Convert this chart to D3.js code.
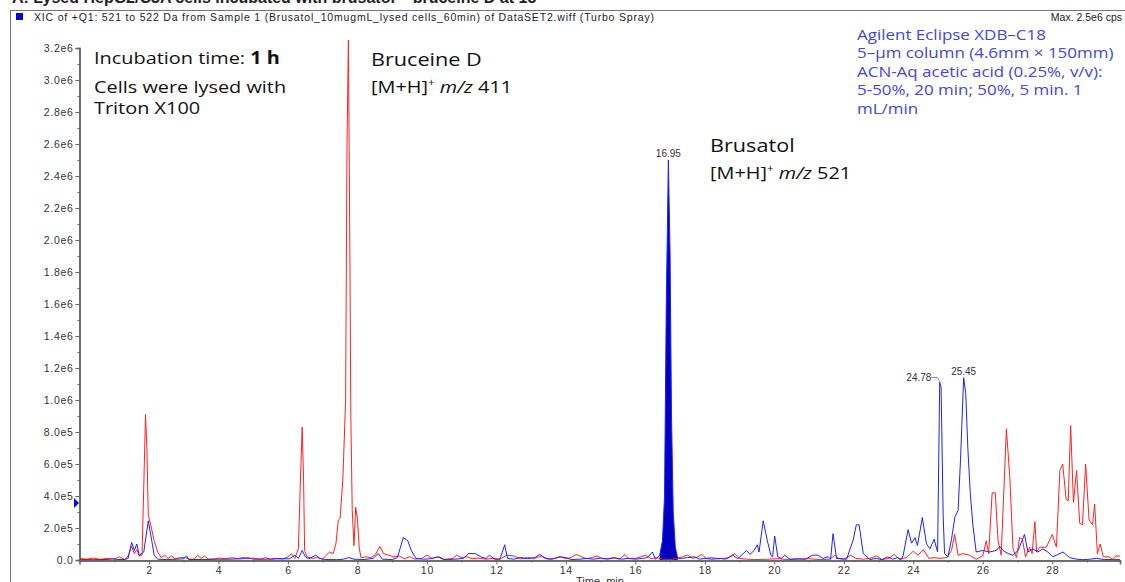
<!DOCTYPE html>
<html>
<head>
<meta charset="utf-8">
<script src="https://cdn.jsdelivr.net/npm/d3@7"></script>
<style>
  body { margin: 0; background: #fff; }
  svg { display: block; }
  .tick text { font-family: "Liberation Sans", Arial, sans-serif; font-size: 10.5px; fill: #333; letter-spacing: 0.7px; }
  .note { font-family: "Open Sans", "Noto Sans", sans-serif; fill: #111; }
  .cond { font-family: "Open Sans", "Noto Sans", sans-serif; fill: #4545d8; font-size: 14.5px; }
</style>
</head>
<body>
<svg id="svg" width="1125" height="582"></svg>
<script>
// chromatogram traces: [time (min), intensity (cps)]
var bruceineD = [ // red, m/z 411
  [0.0,1e4],[0.2,0.5e4],[0.4,1.2e4],[0.6,0.4e4],[0.8,1e4],[1.0,0.5e4],[1.15,2e4],[1.3,0.3e4],[1.4,2.5e4],[1.5,8.5e4],
  [1.58,4e4],[1.65,6.5e4],[1.72,2.5e4],[1.8,3e4],[1.86,5.5e5],[1.9,9.1e5],[1.94,7e5],[1.98,2.8e5],[2.05,2.2e5],[2.15,1.2e5],
  [2.25,5e4],[2.35,1.5e4],[2.45,3e4],[2.55,1e4],[2.65,2.5e4],[2.75,0.8e4],[2.9,1.5e4],[3.05,1.5e4],[3.15,0.5e4],[3.3,0.5e4],
  [3.4,3e4],[3.5,1e4],[3.6,2.5e4],[3.7,0.5e4],[3.85,0.5e4],[4.0,1.2e4],[4.2,0.8e4],[4.4,1.5e4],[4.55,0.8e4],[4.7,1.6e4],
  [4.85,0.8e4],[5.0,1.2e4],[5.2,0.5e4],[5.35,1.5e4],[5.5,0.5e4],[5.7,1e4],[5.85,0.5e4],[6.0,2e4],[6.1,4e4],[6.2,1e4],
  [6.3,7e4],[6.36,5e5],[6.41,8.3e5],[6.45,5e5],[6.48,6e4],[6.55,2e4],[6.7,1e4],[6.85,1.5e4],[7.0,0.5e4],[7.1,3e4],
  [7.2,5e4],[7.3,4e4],[7.38,1e5],[7.45,2.5e5],[7.5,2.6e5],[7.58,5e5],[7.66,1.0e6],[7.7,2.6e6],[7.74,3.25e6],[7.78,2.0e6],
  [7.81,9e5],[7.85,3.1e5],[7.9,9e4],[7.95,3.3e5],[8.0,2.6e5],[8.05,8e4],[8.1,1.5e4],[8.25,2e4],[8.4,1.5e4],[8.52,3.5e4],
  [8.65,8.5e4],[8.75,4e4],[8.9,3e4],[9.05,2e4],[9.2,2.5e4],[9.35,0.8e4],[9.5,2e4],[9.65,0.5e4],[9.85,1e4],[10.0,3e4],
  [10.15,1e4],[10.3,2e4],[10.45,0.5e4],[10.6,0.5e4],[10.75,1e4],[10.85,3e4],[11.0,1.5e4],[11.15,2e4],[11.3,0.8e4],[11.5,1.2e4],
  [11.7,0.5e4],[11.9,1e4],[12.1,0.5e4],[12.3,3e4],[12.5,2.5e4],[12.7,0.8e4],[12.9,1.5e4],[13.1,1e4],[13.3,2.5e4],[13.5,0.5e4],
  [13.7,1e4],[13.85,2e4],[14.0,0.8e4],[14.15,1.5e4],[14.3,3.5e4],[14.45,2e4],[14.6,0.8e4],[14.75,1.5e4],[14.9,2.5e4],[15.05,0.8e4],
  [15.2,1e4],[15.4,1.2e4],[15.55,0.5e4],[15.7,3.5e4],[15.8,1e4],[16.0,1e4],[16.15,2e4],[16.3,3e4],[16.45,0.8e4],[16.6,1.5e4],
  [16.8,0.5e4],[17.0,0.3e4],[17.2,1e4],[17.35,2e4],[17.5,3e4],[17.65,1e4],[17.8,2e4],[17.9,3.5e4],[18.05,1e4],[18.2,1.5e4],
  [18.4,0.8e4],[18.55,1e4],[18.7,1.5e4],[18.86,4e4],[19.0,1e4],[19.2,0.5e4],[19.5,0.3e4],[19.8,0.5e4],[20.1,0.8e4],[20.4,0.3e4],
  [20.7,0.5e4],[21.0,0.8e4],[21.3,0.3e4],[21.6,0.5e4],[21.74,3e4],[21.85,1e4],[22.0,0.5e4],[22.2,3e4],[22.35,1e4],[22.56,0.5e4],
  [22.75,1e4],[22.94,2.5e4],[23.1,0.3e4],[23.3,1e4],[23.45,3.5e4],[23.6,0.5e4],[23.8,1.5e4],[24.0,5.5e4],[24.14,3e4],[24.29,6.5e4],
  [24.45,1e4],[24.6,1.5e4],[24.75,1e4],[24.97,1.5e4],[25.1,6e4],[25.19,1.6e5],[25.29,3e4],[25.43,4e4],[25.62,3e4],[25.81,0.5e4],
  [26.0,2.5e4],[26.1,1.2e5],[26.17,4e4],[26.27,4.2e5],[26.36,4.2e5],[26.44,1.2e5],[26.53,3e4],[26.68,8.2e5],[26.78,5.1e5],[26.87,7e4],
  [26.97,1.5e4],[27.06,1.4e5],[27.14,1.3e5],[27.23,2e4],[27.35,8e4],[27.42,4e4],[27.5,2.4e5],[27.55,5e4],[27.64,8e4],[27.83,8e4],
  [28.0,1.6e5],[28.12,8e4],[28.22,5.6e5],[28.3,6e5],[28.4,3.8e5],[28.46,3.7e5],[28.53,8.4e5],[28.61,3.6e5],[28.7,5.6e5],[28.79,2.3e5],
  [28.87,2.2e5],[28.96,6e5],[29.06,2.5e5],[29.16,2.2e5],[29.22,3.5e5],[29.3,4e4],[29.38,1e5],[29.47,2e4],[29.63,2e4],[29.73,0.5e4],
  [29.83,2.5e4],[29.95,2.5e4]
];
var brusatol = [ // blue, m/z 521
  [0.0,0.2e4],[0.4,0.2e4],[0.8,0.3e4],[0.95,0.8e4],[1.1,0.3e4],[1.3,0.3e4],[1.4,1e4],[1.5,1.1e5],[1.58,6e4],[1.65,1e5],
  [1.72,3e4],[1.85,5e4],[1.98,2.45e5],[2.08,1.2e5],[2.15,3e4],[2.25,0.5e4],[2.5,0.3e4],[2.8,0.5e4],[3.0,0.8e4],[3.08,2.5e4],
  [3.15,0.3e4],[3.5,0.3e4],[3.9,0.5e4],[4.3,0.5e4],[4.7,0.8e4],[4.85,1.5e4],[5.0,0.5e4],[5.4,0.5e4],[5.8,0.8e4],[6.05,0.8e4],
  [6.2,3e4],[6.3,1e4],[6.41,6e4],[6.5,2e4],[6.6,0.8e4],[6.8,3e4],[6.92,1e4],[7.05,0.3e4],[7.4,0.2e4],[7.6,0.5e4],
  [7.75,1.5e4],[7.9,0.5e4],[8.2,0.3e4],[8.45,1e4],[8.6,4e4],[8.72,0.5e4],[9.0,0.3e4],[9.15,1.5e4],[9.32,1.4e5],[9.45,1.2e5],
  [9.55,6e4],[9.68,1e4],[9.9,0.5e4],[10.1,0.8e4],[10.35,2e4],[10.5,0.3e4],[10.8,0.5e4],[11.05,1e4],[11.2,4e4],[11.4,4e4],
  [11.55,2e4],[11.7,1e4],[11.8,3e4],[11.95,0.5e4],[12.1,0.5e4],[12.24,9.5e4],[12.32,1e4],[12.5,0.5e4],[12.7,1.5e4],[12.9,0.8e4],
  [13.1,1.5e4],[13.25,3.5e4],[13.4,1e4],[13.6,0.5e4],[13.8,2e4],[14.0,1.5e4],[14.15,0.3e4],[14.4,0.5e4],[14.6,1e4],[14.8,0.5e4],
  [15.0,1.2e4],[15.2,0.5e4],[15.4,1.5e4],[15.6,0.5e4],[15.8,1e4],[16.0,0.5e4],[16.2,1e4],[16.35,1.5e4],[16.49,5e4],[16.58,0.5e4],
  [16.7,3e4],[16.78,1.2e5],[16.84,4e5],[16.89,1.6e6],[16.95,2.5e6],[17.0,1.9e6],[17.04,9e5],[17.09,3e5],[17.15,8e4],[17.22,1e4],
  [17.35,1e4],[17.5,1.5e4],[17.7,2e4],[17.85,0.5e4],[18.0,1e4],[18.2,0.5e4],[18.45,1e4],[18.6,0.5e4],[18.8,3e4],[18.95,0.8e4],
  [19.2,6e4],[19.3,3.5e4],[19.42,6e4],[19.51,9.5e4],[19.56,5e4],[19.68,2.45e5],[19.8,1.2e5],[19.9,3e4],[19.95,2e4],[20.01,1.5e5],
  [20.1,2e4],[20.2,1e4],[20.3,3e4],[20.45,0.5e4],[20.7,0.8e4],[20.9,0.5e4],[21.1,3e4],[21.25,3e4],[21.4,1e4],[21.55,2e4],
  [21.62,0.5e4],[21.69,1.65e5],[21.79,1e4],[22.08,0.5e4],[22.27,1.25e5],[22.36,2.2e5],[22.44,2.2e5],[22.56,4e4],[22.75,0.3e4],[22.94,1e4],
  [23.1,0.2e4],[23.26,2e4],[23.4,0.5e4],[23.55,1.5e4],[23.65,0.2e4],[23.71,3e4],[23.85,1.9e5],[23.95,1.05e5],[24.05,1.4e5],[24.12,9e4],
  [24.26,2.65e5],[24.38,1e5],[24.48,7e4],[24.6,1.3e5],[24.7,5e4],[24.76,1.11e6],[24.8,1.08e6],[24.86,2.8e5],[24.9,4e4],[25.0,2e4],
  [25.1,1.3e5],[25.2,2.7e5],[25.29,3.1e5],[25.36,6.3e5],[25.45,1.14e6],[25.51,1.04e6],[25.57,7e5],[25.64,4.2e5],[25.71,2.3e5],[25.81,5e4],
  [26.0,6e4],[26.2,5e4],[26.39,6e4],[26.49,8.5e4],[26.58,6e4],[26.73,4e4],[26.87,3e4],[27.02,6e4],[27.2,1.6e5],[27.3,5e4],
  [27.44,7e4],[27.58,5e4],[27.73,7e4],[27.87,5e4],[28.02,2e4],[28.31,5e4],[28.5,1.5e4],[28.7,0.5e4],[28.88,0.2e4],[29.1,0.5e4],
  [29.27,1e4],[29.5,0.3e4],[29.95,0.2e4]
];
var filledRange = [16.6, 17.25];            // integrated brusatol peak
var peakLabels = [[16.95, 2.5e6, "16.95"], [24.78, 1.11e6, "24.78"], [25.45, 1.14e6, "25.45"]];
var xMajor = [2,4,6,8,10,12,14,16,18,20,22,24,26,28];
var xMinor = [1,3,5,7,9,11,13,15,17,19,21,23,25,27,29];
var yMajor = d3.range(0, 3.2e6 + 1, 2e5);
var yMinor = d3.range(1e5, 3.2e6, 2e5);
var condLines = ["Agilent Eclipse XDB\u2013C18", "5\u2013\u00b5m column (4.6mm \u00d7 150mm)",
                 "ACN-Aq acetic acid (0.25%, v/v):", "5-50%, 20 min; 50%, 5 min. 1", "mL/min"];

var svg = d3.select("svg");
var stretch = 1.17;   // the annotation text in the picture is drawn wider than normal

var x = d3.scaleLinear().domain([0, 29.95]).range([79.5, 1120]);
var y = d3.scaleLinear().domain([0, 3.2e6]).range([560, 48]);

// cut-off figure title and instrument frame
svg.append("text").attr("x", 12).attr("y", 3).attr("font-family", "Liberation Sans, Arial, sans-serif")
  .attr("font-size", 16).attr("font-weight", "bold").attr("fill", "#222")
  .text("A: Lysed HepG2/C3A cells incubated with brusatol \u2013 bruceine D at 15");
svg.append("line").attr("x1", 10).attr("x2", 1125).attr("y1", 10.5).attr("y2", 10.5).attr("stroke", "#777");
svg.append("line").attr("x1", 10.5).attr("x2", 10.5).attr("y1", 10).attr("y2", 582).attr("stroke", "#777");
svg.append("rect").attr("x", 16).attr("y", 13).attr("width", 7).attr("height", 7).attr("fill", "#0000e0");
svg.append("text").attr("x", 34).attr("y", 21).attr("font-family", "Liberation Sans, Arial, sans-serif")
  .attr("font-size", 10.5).attr("fill", "#222").attr("textLength", 620)
  .text("XIC of +Q1: 521 to 522 Da from Sample 1 (Brusatol_10mugmL_lysed cells_60min) of DataSET2.wiff (Turbo Spray)");
svg.append("text").attr("x", 1122).attr("y", 21).attr("text-anchor", "end")
  .attr("font-family", "Liberation Sans, Arial, sans-serif").attr("font-size", 10.5).attr("fill", "#222")
  .text("Max. 2.5e6 cps");

// axes
function fmt(v) {
  if (v === 0) return "0.0";
  var e = Math.floor(Math.log10(v) + 1e-9);
  return (v / Math.pow(10, e)).toFixed(1) + "e" + e;
}
svg.append("g").attr("transform", "translate(79.5,0)")
  .call(d3.axisLeft(y).tickValues(yMajor).tickFormat(fmt).tickSize(4).tickPadding(2));
svg.append("g").attr("transform", "translate(79.5,0)")
  .call(d3.axisLeft(y).tickValues(yMinor).tickFormat("").tickSize(2));
svg.append("g").attr("transform", "translate(0,560.5)")
  .call(d3.axisBottom(x).tickValues(xMajor).tickSize(4).tickPadding(2));
svg.append("g").attr("transform", "translate(0,560.5)")
  .call(d3.axisBottom(x).tickValues(xMinor).tickFormat("").tickSize(2));
svg.selectAll(".domain").attr("stroke", "#666").attr("stroke-width", 1.5);
svg.selectAll(".tick line").attr("stroke", "#666");
svg.append("text").attr("x", 600).attr("y", 585).attr("text-anchor", "middle")
  .attr("font-family", "Liberation Sans, Arial, sans-serif").attr("font-size", 11).attr("fill", "#333")
  .text("Time, min");
// axis threshold marker
svg.append("path").attr("d", "M74,498 L79,503 L74,508 Z").attr("fill", "#0000e0");

// traces
svg.append("clipPath").attr("id", "plot").append("rect")
  .attr("x", 80).attr("y", 40).attr("width", 1045).attr("height", 521);
var plot = svg.append("g").attr("clip-path", "url(#plot)");
var line = d3.line().x(function(d){ return x(d[0]); }).y(function(d){ return y(d[1]); });
var area = d3.area().x(function(d){ return x(d[0]); }).y0(y(0)).y1(function(d){ return y(d[1]); });

plot.append("path").datum(brusatol.filter(function(d){ return d[0] >= filledRange[0] && d[0] <= filledRange[1]; }))
  .attr("d", area).attr("fill", "#0000c0");
plot.append("path").datum(bruceineD).attr("d", line)
  .attr("fill", "none").attr("stroke", "#ff2020").attr("stroke-width", 1);
plot.append("path").datum(brusatol).attr("d", line)
  .attr("fill", "none").attr("stroke", "#2020ff").attr("stroke-width", 1);

// peak retention-time labels
peakLabels.forEach(function(p, i) {
  var px = x(p[0]), py = y(p[1]);
  if (i === 1) {
    svg.append("path").attr("d", "M" + (px - 9) + "," + (py - 5) + " L" + (px - 3) + "," + (py - 5) + " L" + px + "," + py)
      .attr("fill", "none").attr("stroke", "#555").attr("stroke-width", 0.7);
    svg.append("text").attr("x", px - 9).attr("y", py - 1).attr("text-anchor", "end")
      .attr("font-family", "Liberation Sans, Arial, sans-serif").attr("font-size", 10).attr("fill", "#333").text(p[2]);
  } else {
    svg.append("text").attr("x", px).attr("y", py - 3).attr("text-anchor", "middle")
      .attr("font-family", "Liberation Sans, Arial, sans-serif").attr("font-size", 10).attr("fill", "#333").text(p[2]);
  }
});

// annotations
function block(px, py) {
  return svg.append("g").attr("transform", "translate(" + px + "," + py + ") scale(" + stretch + ",1)");
}
var g1 = block(94, 64);
var t1 = g1.append("text").attr("class", "note").attr("font-size", 17);
t1.append("tspan").text("Incubation time: ");
t1.append("tspan").attr("font-weight", "bold").text("1 h");
g1.append("text").attr("class", "note").attr("y", 29).attr("font-size", 17).text("Cells were lysed with");
g1.append("text").attr("class", "note").attr("y", 50).attr("font-size", 17).text("Triton X100");

function massLabel(px, py, name, mz) {
  var g = block(px, py);
  g.append("text").attr("class", "note").attr("font-size", 18.5).text(name);
  var t = g.append("text").attr("class", "note").attr("y", 27).attr("font-size", 17);
  t.append("tspan").text("[M+H]");
  t.append("tspan").attr("font-size", 10).attr("dy", -7).text("+");
  t.append("tspan").attr("dy", 7).text(" ");
  t.append("tspan").attr("font-style", "italic").text("m/z");
  t.append("tspan").text(" " + mz);
}
massLabel(371, 66, "Bruceine D", "411");
massLabel(710, 152, "Brusatol", "521");

block(857, 40).selectAll(".cond").data(condLines).enter().append("text").attr("class", "cond")
  .attr("y", function(d, i){ return i * 18.5; }).text(function(d){ return d; });
</script>
</body>
</html>
